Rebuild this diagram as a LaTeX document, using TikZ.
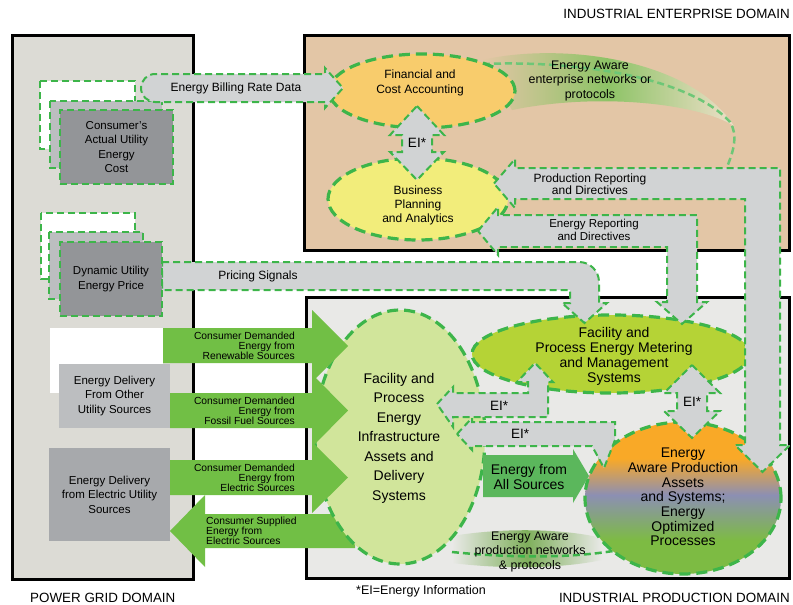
\documentclass[tikz,border=0pt]{standalone}
\usepackage{fontspec}
\setmainfont{Liberation Sans}
\usetikzlibrary{shapes.geometric}

\definecolor{dashgreen}{HTML}{3DB54A}
\definecolor{flowgray}{HTML}{D1D3D4}
\definecolor{gridfill}{HTML}{DCDBD5}
\definecolor{entfill}{HTML}{E3C6A6}
\definecolor{prodfill}{HTML}{E9E9E7}
\definecolor{finfill}{HTML}{F8CC6C}
\definecolor{busfill}{HTML}{F2ED7B}
\definecolor{meterfill}{HTML}{B5D336}
\definecolor{infrafill}{HTML}{D1E59B}
\definecolor{feedgreen}{HTML}{71BF45}
\definecolor{allgreen}{HTML}{5BB75C}
\definecolor{boxdark}{HTML}{939598}
\definecolor{boxmid}{HTML}{BCBEC0}
\definecolor{boxelec}{HTML}{A7A9AC}
\definecolor{bandgreen}{HTML}{8DC366}
\definecolor{bandlight}{HTML}{EEDFC9}
\definecolor{prodorange}{HTML}{F9A927}
\definecolor{prodpurple}{HTML}{8C8FB3}
\definecolor{prodgreen}{HTML}{7DBB43}

\pgfdeclareverticalshading{prodshade}{100bp}{color(0bp)=(prodgreen); color(36bp)=(prodgreen); color(51bp)=(prodpurple); color(63bp)=(prodorange); color(100bp)=(prodorange)}

\tikzset{
  domainbox/.style={draw=black, line width=3pt},
  domaintext/.style={font=\fontsize{13.4}{15}\selectfont, inner sep=0pt},
  greendash/.style={draw=dashgreen, line width=2pt, dash pattern=on 7pt off 4pt},
  flowarrow/.style={greendash, fill=flowgray},
  bubble/.style={ellipse, draw=dashgreen, line width=3.2pt, dash pattern=on 11pt off 6pt, inner sep=0pt},
  bubbletext/.style={align=center, inner sep=0pt, font=\fontsize{14}{15}\selectfont},
  infobox/.style={greendash, align=center, font=\fontsize{11.5}{14.5}\selectfont, inner sep=0pt},
  sourcebox/.style={align=center, font=\fontsize{11.5}{14.5}\selectfont, inner sep=0pt},
  feedtext/.style={font=\fontsize{10.3}{10}\selectfont, inner sep=0pt},
  flowtext/.style={font=\fontsize{12}{12.5}\selectfont, align=center, inner sep=0pt},
  eitext/.style={font=\fontsize{13.5}{14}\selectfont, inner sep=0pt},
  bandtext/.style={font=\fontsize{12.4}{14.5}\selectfont, align=center, inner sep=0pt}
}

\begin{document}
\begin{tikzpicture}[x=1pt, y=-1pt]
\useasboundingbox (0,0) rectangle (793,605);

% Domain frames
\draw[domainbox, fill=gridfill] (12,35) rectangle (193,579);
\draw[domainbox, fill=entfill] (304,35) rectangle (789,250);
\draw[domainbox, fill=prodfill] (306,297) rectangle (789,578);

\node[domaintext, anchor=east] (enttitle) at (790,14) {INDUSTRIAL ENTERPRISE DOMAIN};
\node[domaintext, anchor=west] (gridtitle) at (30,598) {POWER GRID DOMAIN};
\node[domaintext, anchor=east] (prodtitle) at (790,598) {INDUSTRIAL PRODUCTION DOMAIN};
\node[font=\fontsize{12.5}{14}\selectfont, inner sep=0pt] (eikey) at (421,591) {*EI=Energy Information};

% Network bands
\shade[left color=entfill, right color=bandlight, middle color=bandgreen]
  (482,60) .. controls (560,42) and (690,58) .. (734,126)
  .. controls (700,104) and (600,92) .. (512,110) -- cycle;
\draw[greendash, draw=dashgreen!75, line width=2.5pt]
  (483,64) .. controls (580,60) and (690,78) .. (730,122)
  .. controls (738,135) and (734,150) .. (727,167);
\shade[left color=prodfill, right color=prodfill, middle color=bandgreen!90!black]
  (452,536) .. controls (500,528) and (560,528) .. (602,538) -- (602,560)
  .. controls (560,569) and (500,569) .. (452,563) -- cycle;
\draw[greendash, line width=2.5pt]
  (452,552) .. controls (510,558) and (570,558) .. (613,551);

% Supplied energy runs under the infrastructure bubble
\fill[feedgreen] (355,514) -- (205,514) -- (205,495) -- (170,531) -- (205,567) -- (205,548) -- (355,548) -- cycle;

% Bubbles
\node[bubble, fill=finfill, minimum width=186pt, minimum height=74pt] (finance) at (422,91) {};
\node[bubble, fill=busfill, minimum width=180pt, minimum height=82pt] (business) at (418,199) {};
\node[bubble, fill=infrafill, minimum width=170pt, minimum height=254pt] (infra) at (400,437) {};
\node[bubble, fill=meterfill, minimum width=278pt, minimum height=78pt] (meter) at (611,354) {};
\node[bubble, shading=prodshade, minimum width=196pt, minimum height=152pt] (assets) at (683,498) {};

\node[bubbletext, font=\fontsize{12}{14.5}\selectfont] (financetext) at (420,83) {Financial and\\Cost Accounting};
\node[bubbletext, font=\fontsize{12}{14}\selectfont] (businesstext) at (418,205) {Business\\Planning\\and Analytics};
\node[bubbletext, font=\fontsize{14}{19.5}\selectfont] (infratext) at (399,438) {Facility and\\Process\\Energy\\Infrastructure\\Assets and\\Delivery\\Systems};
\node[bubbletext] (metertext) at (614,356) {Facility and\\Process Energy Metering\\and Management\\Systems};
\node[bubbletext, font=\fontsize{14}{14.7}\selectfont] (assetstext) at (683,497) {Energy\\Aware Production\\Assets\\and Systems;\\Energy\\Optimized\\Processes};

% Consumer cost stack and billing data
\draw[greendash, fill=white] (40,81) rectangle (135,149);
\draw[greendash, fill=boxmid] (50,101) rectangle (162,168);
\draw[flowarrow] (325,102) -- (155,102) arc[start angle=90, end angle=270, radius=14] -- (325,74) -- (325,68) -- (343,88) -- (325,108) -- cycle;
\node[infobox, fill=boxdark, minimum width=113pt, minimum height=74pt] (costbox) at (116.5,147) {Consumer’s\\Actual Utility\\Energy\\Cost};
\node[flowtext] (billingtext) at (236,88) {Energy Billing Rate Data};

% Dynamic price stack and pricing signals
\draw[greendash, fill=white] (41,213) rectangle (135,279);
\draw[greendash, fill=boxmid] (49,232) rectangle (143,299);
\draw[flowarrow] (162,262) -- (579,262) arc[start angle=270, end angle=360, radius=20] -- (599,303) -- (607,303) -- (584.5,323) -- (562,303) -- (570,303) -- (570,290) -- (162,290) -- cycle;
\node[infobox, fill=boxdark, minimum width=102pt, minimum height=74pt] (pricebox) at (111,279) {Dynamic Utility\\Energy Price};
\node[flowtext] (pricingtext) at (258,276) {Pricing Signals};

% Energy delivery sources
\fill[white] (50,328) rectangle (163,393);
\node[sourcebox, fill=boxmid, minimum width=111pt, minimum height=64pt] (otherbox) at (114.5,396) {Energy Delivery\\From Other\\Utility Sources};
\node[sourcebox, fill=boxelec, minimum width=121pt, minimum height=93pt] (elecbox) at (109.5,494.5) {Energy Delivery\\from Electric Utility\\Sources};

% Energy feeds
\fill[feedgreen] (163,328) -- (312,328) -- (312,310) -- (348,346) -- (312,382) -- (312,363) -- (163,363) -- cycle;
\fill[feedgreen] (170,393) -- (312,393) -- (312,374) -- (348,410.5) -- (312,447) -- (312,428) -- (170,428) -- cycle;
\fill[feedgreen] (170,460) -- (312,460) -- (312,442) -- (348,477.5) -- (312,513) -- (312,495) -- (170,495) -- cycle;
\node[feedtext, anchor=east, align=right] (renewtext) at (295,346) {Consumer Demanded\\Energy from\\Renewable Sources};
\node[feedtext, anchor=east, align=right] (fossiltext) at (295,410.5) {Consumer Demanded\\Energy from\\Fossil Fuel Sources};
\node[feedtext, anchor=east, align=right] (electext) at (295,478) {Consumer Demanded\\Energy from\\Electric Sources};
\node[feedtext, anchor=west, align=left] (supplytext) at (206,531) {Consumer Supplied\\Energy from\\Electric Sources};

\fill[allgreen] (483,455) -- (573,455) -- (573,449) -- (589,476) -- (573,503) -- (573,497) -- (483,497) -- cycle;
\node[bubbletext, font=\fontsize{14}{14.5}\selectfont] (alltext) at (529,477) {Energy from\\All Sources};

% Information flows
\draw[flowarrow] (417,106) -- (444,135) -- (432,135) -- (432,152) -- (444,152) -- (417,180) -- (390,152) -- (402,152) -- (402,135) -- (390,135) -- cycle;
\draw[flowarrow] (494,183.5) -- (515,159) -- (515,168) -- (780,168) -- (780,445) -- (790,445) -- (762.5,472) -- (735,445) -- (745,445) -- (745,199) -- (515,199) -- (515,208) -- cycle;
\draw[flowarrow] (478,231) -- (498,207) -- (498,215) -- (697,215) -- (697,302) -- (707,302) -- (682,324) -- (657,302) -- (667,302) -- (667,247) -- (498,247) -- (498,255) -- cycle;
\draw[flowarrow] (437,404) -- (453,387) -- (453,393) -- (528,393) -- (528,382) -- (517,382) -- (535,363) -- (553,382) -- (548,382) -- (548,417) -- (453,417) -- (453,427) -- cycle;
\draw[flowarrow] (457,434) -- (472,418) -- (472,422) -- (615,422) -- (615,440) -- (604,468) -- (592,446) -- (472,446) -- (472,450) -- cycle;
\draw[flowarrow] (692,365) -- (720,393) -- (707,393) -- (707,411) -- (720,411) -- (692,438) -- (664,411) -- (677,411) -- (677,393) -- (664,393) -- cycle;

\node[flowtext] (prodreptext) at (590,184) {Production Reporting\\and Directives};
\node[flowtext, font=\fontsize{11.5}{12.5}\selectfont] (enrreptext) at (594,230) {Energy Reporting\\and Directives};
\node[eitext] (eiupper) at (417,143) {EI*};
\node[eitext] (eimid) at (499,406) {EI*};
\node[eitext] (eilow) at (520,434) {EI*};
\node[eitext] (eiright) at (692,402) {EI*};
\node[bandtext] (enttext) at (590,81) {Energy Aware\\enterprise networks or\\protocols};
\node[bandtext] (prodnettext) at (530,552) {Energy Aware\\production networks\\\& protocols};

\end{tikzpicture}
\end{document}
